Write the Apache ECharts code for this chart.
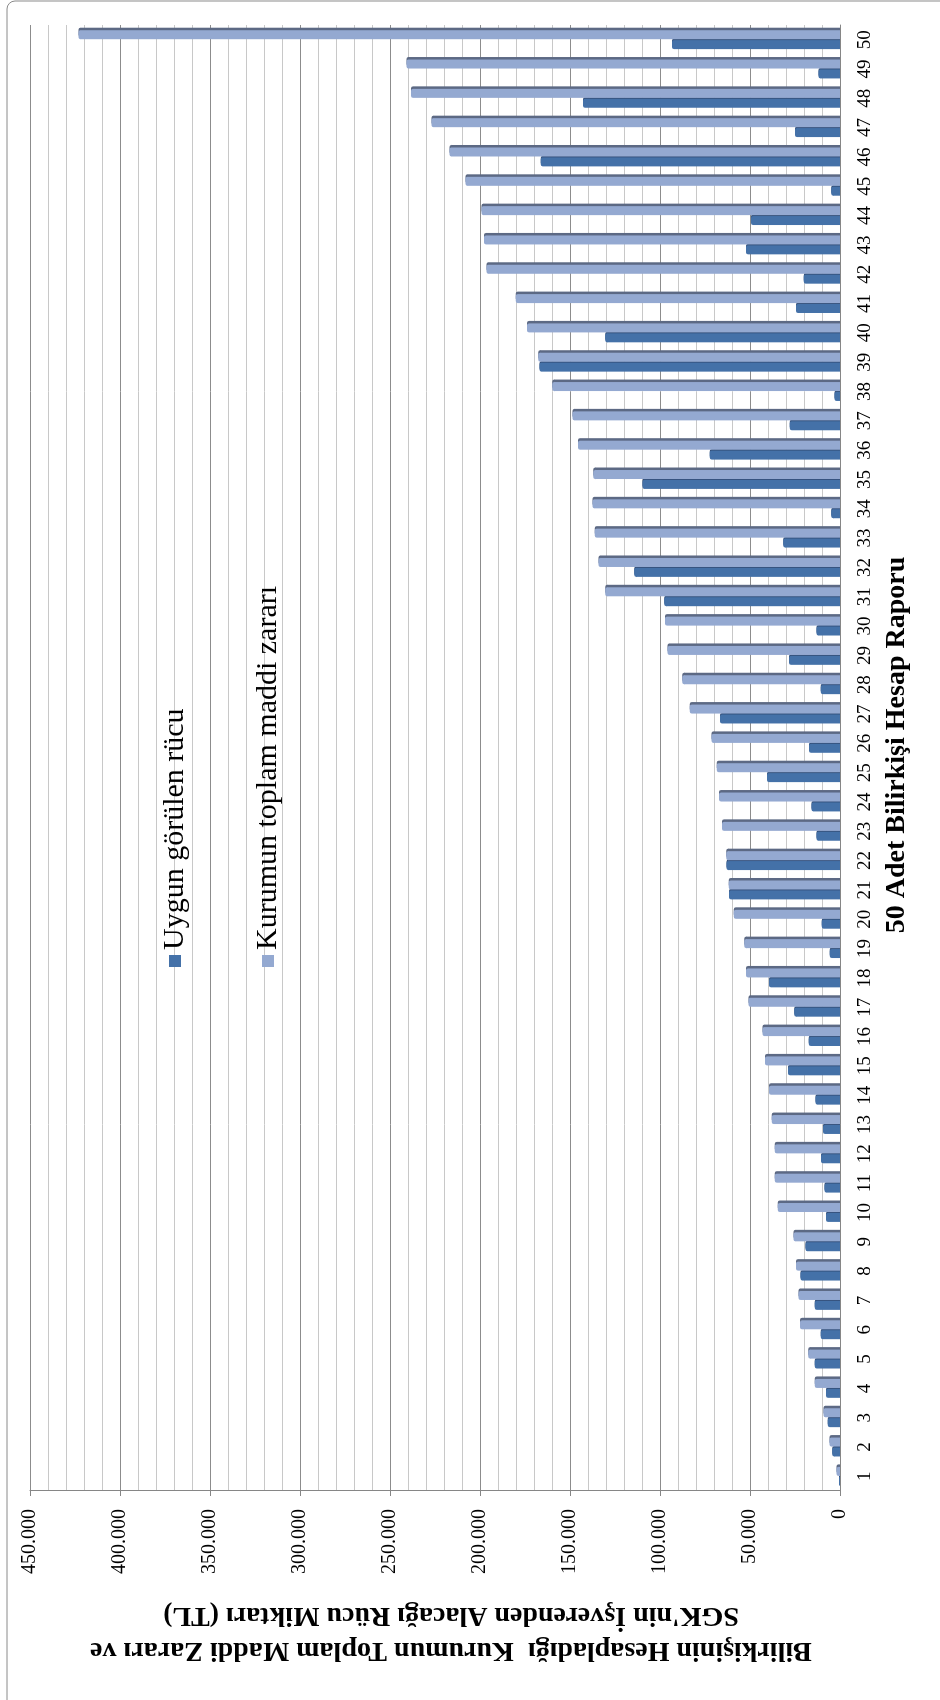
<!DOCTYPE html>
<html>
<head>
<meta charset="utf-8">
<script src="https://cdn.jsdelivr.net/npm/echarts@6/dist/echarts.min.js"></script>
<style>
    html, body { margin: 0; padding: 0; background: #fff; }
    body { width: 940px; height: 1700px; position: relative; overflow: hidden; }
    /* chart is drawn landscape, then turned a quarter to the left */
    #myChart {
        position: absolute; left: 0; top: 0;
        width: 1700px; height: 940px;
        transform-origin: 0 0;
        transform: translate(0, 1700px) rotate(-90deg);
    }
</style>
</head>
<body>
<div id="myChart"></div>
<script>
    var raporlar = ['1', '2', '3', '4', '5', '6', '7', '8', '9', '10',
        '11', '12', '13', '14', '15', '16', '17', '18', '19', '20',
        '21', '22', '23', '24', '25', '26', '27', '28', '29', '30',
        '31', '32', '33', '34', '35', '36', '37', '38', '39', '40',
        '41', '42', '43', '44', '45', '46', '47', '48', '49', '50'];

    // Uygun görülen rücu
    var uygunRucu = [600, 4300, 6800, 7800, 14000, 10700, 14000, 22000, 19100, 7800,
        8600, 10500, 9500, 13600, 28900, 17400, 25400, 39400, 5700, 10100,
        61600, 63000, 13000, 15900, 40500, 17200, 66600, 10700, 28300, 13000,
        97600, 114300, 31500, 4900, 109700, 72400, 27900, 3000, 167000, 130400,
        24500, 20200, 52200, 49400, 4900, 166200, 25000, 142800, 12000, 93400];

    // Kurumun toplam maddi zararı
    var toplamZarar = [1900, 5900, 9100, 14000, 17700, 22200, 23100, 24500, 25800, 34600,
        36300, 36300, 37900, 39400, 41700, 43000, 50900, 52200, 53200, 59000,
        61800, 63200, 65600, 67200, 68500, 71400, 83500, 87700, 95900, 97200,
        130400, 134200, 136300, 137500, 137100, 145500, 148600, 159900, 167700, 173900,
        180200, 196400, 197800, 199100, 208000, 217000, 226900, 238400, 240900, 423000];

    var serif = "'Liberation Serif', 'Times New Roman', serif";

    var myChart = echarts.init(document.getElementById('myChart'));

    myChart.setOption({
        animation: false,
        backgroundColor: '#fff',
        textStyle: { fontFamily: serif },
        grid: { left: 209, right: 25, top: 30, bottom: 100, containLabel: false },
        legend: {
            orient: 'vertical',
            left: 728,
            top: 154,
            itemWidth: 12,
            itemHeight: 12,
            itemGap: 61,
            icon: 'rect',
            textStyle: { fontFamily: serif, fontSize: 30, color: '#000', lineHeight: 32 },
            data: ['Uygun görülen rücu', 'Kurumun toplam maddi zararı']
        },
        xAxis: {
            type: 'category',
            data: raporlar,
            axisLine: { lineStyle: { color: '#868686' } },
            axisTick: { show: false },
            axisLabel: { margin: 16, fontSize: 19, color: '#000', fontFamily: serif }
        },
        yAxis: {
            type: 'value',
            min: 0,
            max: 450000,
            interval: 50000,
            axisLine: { show: true, lineStyle: { color: '#868686' } },
            axisTick: { show: true, length: 5, lineStyle: { color: '#868686' } },
            axisLabel: {
                margin: 18, fontSize: 20, color: '#000', fontFamily: serif,
                formatter: function (v) {
                    return v === 0 ? '0' : (v / 1000) + '.000';
                }
            },
            splitLine: { lineStyle: { color: '#8c8c8c' } },
            minorTick: { show: false, splitNumber: 5 },
            minorSplitLine: { show: true, lineStyle: { color: '#c8c8c8' } }
        },
        graphic: [
            {
                type: 'rect',
                shape: { x: -10, y: 7, width: 1709, height: 960, r: 8 },
                style: { fill: null, stroke: '#8a8a8a', lineWidth: 1 },
                silent: true
            },
            {
                type: 'text',
                x: 955, y: 897,
                style: {
                    text: '50 Adet Bilirkişi Hesap Raporu',
                    font: 'bold 28px ' + serif,
                    fill: '#000',
                    align: 'center',
                    verticalAlign: 'middle'
                }
            },
            {
                type: 'text',
                x: 67, y: 451,
                rotation: Math.PI / 2,
                style: {
                    text: 'Bilirkişinin Hesapladığı  Kurumun Toplam Maddi Zararı ve\nSGK\'nin İşverenden Alacağı Rücu Miktarı (TL)',
                    font: 'bold 28px ' + serif,
                    lineHeight: 35,
                    fill: '#000',
                    align: 'center',
                    verticalAlign: 'middle'
                }
            }
        ],
        series: [
            {
                name: 'Uygun görülen rücu',
                type: 'bar',
                barWidth: 9,
                barGap: '10%',
                itemStyle: {
                    color: '#4471a8',
                    borderRadius: [2, 2, 0, 0],
                    shadowColor: '#34507a',
                    shadowOffsetX: 1.5,
                    shadowBlur: 0
                },
                data: uygunRucu
            },
            {
                name: 'Kurumun toplam maddi zararı',
                type: 'bar',
                barWidth: 9,
                itemStyle: {
                    color: '#94a9d1',
                    borderRadius: [2, 2, 0, 0],
                    shadowColor: '#5c6984',
                    shadowOffsetX: 2.5,
                    shadowBlur: 0
                },
                data: toplamZarar
            }
        ]
    });
</script>
</body>
</html>
